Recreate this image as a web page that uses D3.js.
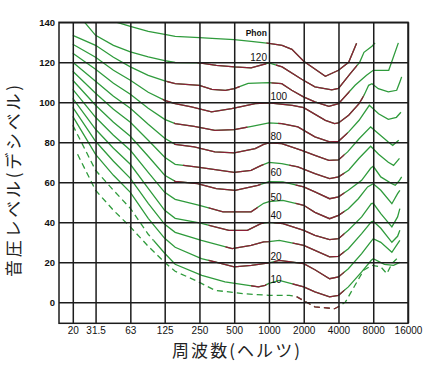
<!DOCTYPE html>
<html>
<head>
<meta charset="utf-8">
<script src="https://cdnjs.cloudflare.com/ajax/libs/d3/7.8.5/d3.min.js"></script>
<style>
body { margin: 0; background: #fff; }
svg { display: block; }
</style>
</head>
<body>
<svg id="chart" width="430" height="365"></svg>
<script>
// tick values
var freqTicks = [20, 31.5, 63, 125, 250, 500, 1000, 2000, 4000, 8000, 16000];
var dbTicks = [0, 20, 40, 60, 80, 100, 120, 140];

// equal loudness curves, [frequency Hz, level dB]
var phon130 = [[31.5,150],[45,140.5],[63,138],[90,135.5],[125,134],[154,133],[250,132.3],[350,131.8],[500,131.3],[700,130.5],[1000,129.5],[1300,128.5],[1580,126.5],[2000,120.5],[3080,113],[4000,116],[4900,120],[5740,129.5]];
var phon120 = [[20,147],[31.5,133.5],[45,128.5],[63,125.2],[90,122.7],[125,120.8],[154,119.9],[250,119.7],[350,118.5],[500,117.7],[700,117.2],[1000,119.7],[1300,117.7],[1920,111.5],[2500,107.7],[3500,106.2],[4000,107],[5060,114.3],[6100,120],[6650,125],[7800,128],[8300,129.7]];
var phon110 = [[20,133.5],[31.5,128.5],[45,122.5],[63,117.7],[90,113.5],[125,110.7],[154,109.3],[250,108.5],[320,106.5],[420,106],[500,106.8],[660,109.5],[1000,109.8],[1290,109.3],[1575,106],[1990,102.7],[2500,100.2],[3300,98],[4000,99.3],[5570,108.5],[7000,113.5],[8000,116],[10900,116],[13200,129.7]];
var phon100 = [[20,129],[31.5,122.5],[45,116],[63,111],[90,105],[125,101],[154,99.3],[213,97.7],[318,95.2],[475,96.8],[760,99.3],[1000,99.7],[1594,98.5],[2000,97.3],[3080,91],[3700,89.3],[4000,89.7],[4900,93.5],[6030,99.3],[6660,103.5],[7300,108.5],[7800,109.3],[8850,106.8],[10800,105.2],[12770,106],[13600,110.2],[14100,112.7]];
var phon90 = [[20,124.5],[31.5,116.5],[45,109.5],[63,104],[90,97],[125,91.5],[154,89.3],[225,88],[340,86],[500,86.3],[710,88],[1000,89.7],[1290,89.3],[1780,87.7],[2500,82.7],[3350,80.2],[4000,80.5],[4900,85.2],[6030,91],[7400,98.5],[8900,94.3],[10800,91.5],[12700,92.5],[13900,95]];
var phon80 = [[20,120],[31.5,110.5],[45,103],[63,97],[90,89],[125,82],[154,79],[225,77.7],[340,75.2],[500,74.7],[760,76.8],[900,79],[1000,79.7],[1290,79.3],[1920,76],[2500,73.5],[3300,71],[4000,71.2],[4800,75.2],[6030,81.8],[7600,87.7],[8900,84.3],[10800,80.2],[11800,78.5],[13300,81]];
var phon70 = [[20,115.5],[31.5,104.5],[45,96.5],[63,90],[90,81],[125,72.5],[154,69],[250,67.5],[500,65],[700,66],[850,68.3],[1000,70],[1290,69.3],[1780,67.7],[2500,64.3],[3350,61.8],[4000,62.7],[4900,66],[6030,72],[7600,78],[8900,74],[10800,70],[12000,68.5],[13500,72]];
var phon60 = [[20,111],[31.5,98.5],[45,90],[63,83],[90,73],[125,63.5],[154,60.5],[240,59.3],[350,56.8],[510,56],[800,58.5],[1000,60.3],[1320,60.2],[2000,57.7],[2500,55.2],[3350,51.8],[4000,52.7],[4870,56],[6350,61],[7600,67],[8000,68],[9300,62.7],[11600,59.3],[12400,58.5],[13500,61],[14100,62.7]];
var phon50 = [[20,106.5],[31.5,92.5],[45,83.5],[63,76],[90,65],[125,55],[154,51.5],[250,48.5],[400,45.2],[700,45.2],[900,49.5],[1000,50.3],[1320,51],[2000,48.5],[2500,45],[3350,41.8],[4000,43.5],[4870,46.8],[5940,51.8],[7150,57.7],[8000,59.3],[9300,56],[11600,49.3],[13000,54.3],[13600,56]];
var phon40 = [[20,102],[31.5,86.5],[45,77],[63,69],[90,57],[125,46],[154,42],[250,39.7],[450,36],[650,36],[850,39.3],[1000,40],[1320,39.3],[2000,36],[2500,33.5],[3350,31.3],[4000,31.8],[4870,36],[6350,42.7],[7700,49.3],[8000,49.5],[9300,44.3],[11600,37.7],[13000,42.7],[13600,46.8]];
var phon30 = [[20,97.5],[31.5,80.5],[45,70.5],[63,62],[90,49.5],[125,39],[154,35],[260,31],[480,26.8],[700,28.5],[900,30.2],[1000,30.3],[1230,31],[2000,28.5],[2500,26],[3350,22.7],[4000,23],[4870,26.8],[6350,34.3],[7700,40.2],[8000,40.5],[9300,37],[11600,30],[13000,33],[13600,36]];
var phon20 = [[20,93],[31.5,74],[45,63.5],[63,55],[90,42],[125,32],[154,27.5],[260,21.8],[340,20.2],[500,17.7],[705,18.5],[1000,19.7],[1230,21],[2000,19.3],[2500,16.3],[3350,11.8],[4000,12.7],[4870,16.8],[6350,24.3],[7400,29.3],[8000,31.8],[9300,30],[11600,25],[13600,31]];
var phon10 = [[20,88.5],[31.5,66],[45,56],[63,47],[90,34],[125,24.5],[154,19],[262,13.5],[416,10.2],[663,8.5],[810,7.7],[925,8.5],[1000,9.5],[1230,11],[2000,7.7],[2500,5.2],[3350,2.7],[4000,3.5],[4870,7.7],[6350,15.2],[7700,21],[8000,21.8],[10000,19],[12000,18.5],[13600,20]];
var threshold = [[22,74],[31.5,56],[45,46],[63,37.7],[90,28],[125,20],[154,15.5],[240,10.5],[340,6],[600,4.3],[1000,3.5],[1500,3.5],[1750,2.7],[2500,-2.3],[3700,-3.2],[4200,-1.5],[4600,0.2],[5560,8.5],[6600,16],[7800,18.5],[9300,17.7],[10500,14.3],[11600,19.3],[13300,22.7]];

var curves = [phon130, phon120, phon110, phon100, phon90, phon80, phon70, phon60, phon50, phon40, phon30, phon20, phon10, threshold];

// frequency ranges where each curve is drawn in dark red (the rest is green)
var redBands = [
  [[950,6000]],
  [[240,950],[1150,5800]],
  [[130,560],[1050,5000]],
  [[120,6600]],
  [[150,650],[1200,4800]],
  [[150,4500]],
  [[180,900],[1500,4500]],
  [[150,850],[1700,4500]],
  [[300,800],[1700,4500]],
  [[300,900],[1100,4500]],
  [[420,1000],[1600,4500]],
  [[300,1000],[1100,4500]],
  [[700,950],[1600,4500]],
  [[1600,4300]]
];
// curves drawn dashed below this frequency
var dashedBelow = [0,0,0,0,0,0,0,0,0,0,0,0,100,Infinity];

// curve labels: text, level (dB) where it sits at 1000 Hz
var labelText = ["Phon", "120", "100", "80", "60", "50", "40", "20", "10"];
var labelLevel = [133.2, 120.9, 101.4, 81.2, 63.4, 50.8, 41.9, 21.2, 9.9];

var green = "#2f9b3c", red = "#8b2036";

var svg = d3.select("#chart");
var plotLeft = 59, plotRight = 408, plotTop = 22.3, plotBottom = 323.3;

var x = d3.scaleLog().domain([20, 16000]).range([72.8, 408]);
var y = d3.scaleLinear().domain([0, 140]).range([302.3, 22.3]);

var defs = svg.append("defs");
var clipCount = 0;
function clipBetween(f0, f1) {
  var id = "clip" + (clipCount++);
  var x0 = f0 > 0 ? Math.max(plotLeft, x(f0)) : plotLeft;
  var x1 = isFinite(f1) ? Math.min(plotRight, x(f1)) : plotRight;
  defs.append("clipPath").attr("id", id).append("rect")
    .attr("x", x0).attr("y", plotTop)
    .attr("width", Math.max(0, x1 - x0)).attr("height", plotBottom - plotTop);
  return "url(#" + id + ")";
}

var line = d3.line()
  .x(function(d) { return x(d[0]); })
  .y(function(d) { return y(d[1]); });

// curves
var gCurves = svg.append("g").attr("class", "curves");
curves.forEach(function(pts, i) {
  var cut = dashedBelow[i];
  var pieces = [];
  if (cut > 0) pieces.push([0, cut, true]);
  if (isFinite(cut)) pieces.push([cut, Infinity, false]);
  pieces.forEach(function(p) {
    gCurves.append("path")
      .attr("d", line(pts))
      .attr("clip-path", clipBetween(p[0], p[1]))
      .attr("fill", "none")
      .attr("stroke", green)
      .attr("stroke-width", 1.3)
      .attr("stroke-dasharray", p[2] ? "6,4" : null);
    redBands[i].forEach(function(b) {
      var lo = Math.max(p[0], b[0]), hi = Math.min(p[1], b[1]);
      if (hi <= lo) return;
      gCurves.append("path")
        .attr("d", line(pts))
        .attr("clip-path", clipBetween(lo, hi))
        .attr("fill", "none")
        .attr("stroke", red)
        .attr("stroke-width", 1.3)
        .attr("stroke-dasharray", p[2] ? "6,4" : null);
    });
  });
});

// axes with grid lines
var yAxis = d3.axisLeft(y)
  .tickValues(dbTicks)
  .tickSize(-(plotRight - plotLeft))
  .tickPadding(4);
var gy = svg.append("g")
  .attr("transform", "translate(" + plotLeft + ",0)")
  .call(yAxis);

var xAxis = d3.axisBottom(x)
  .tickValues(freqTicks)
  .tickFormat(function(d) { return String(d); })
  .tickSize(-(plotBottom - plotTop))
  .tickPadding(4);
var gx = svg.append("g")
  .attr("transform", "translate(0," + plotBottom + ")")
  .call(xAxis);

gy.select(".domain").remove();
gx.select(".domain").remove();
svg.selectAll(".tick line").attr("stroke", "#1c1c1c").attr("stroke-width", 1.5);
gy.selectAll("text")
  .attr("font-family", "'Liberation Sans', Arial, sans-serif")
  .attr("font-size", 9.5).attr("font-weight", "bold").attr("fill", "#111");
gx.selectAll("text")
  .attr("font-family", "'Liberation Sans', Arial, sans-serif")
  .attr("font-size", 10).attr("fill", "#111");

// frame
svg.append("rect")
  .attr("x", plotLeft).attr("y", plotTop)
  .attr("width", plotRight - plotLeft).attr("height", plotBottom - plotTop)
  .attr("fill", "none").attr("stroke", "#1c1c1c").attr("stroke-width", 1.5);

// phon labels near 1000 Hz
svg.append("g").selectAll("text")
  .data(labelText)
  .enter()
  .append("text")
  .attr("x", function(d, i) { return labelLevel[i] > 110 ? x(1000) - 2 : x(1000) + 1.5; })
  .attr("y", function(d, i) { return y(labelLevel[i]); })
  .attr("text-anchor", function(d, i) { return labelLevel[i] > 110 ? "end" : "start"; })
  .attr("font-family", "'Liberation Sans', Arial, sans-serif")
  .attr("font-size", function(d) { return d === "Phon" ? 8.5 : 10; })
  .attr("font-weight", function(d) { return d === "Phon" ? "bold" : "normal"; })
  .attr("fill", "#111")
  .text(function(d) { return d; });

// axis titles
svg.append("text")
  .attr("x", 236).attr("y", 357)
  .attr("text-anchor", "middle")
  .attr("font-family", "'Noto Sans CJK JP', sans-serif")
  .attr("font-size", 17)
  .attr("textLength", 128).attr("lengthAdjust", "spacing")
  .attr("fill", "#222")
  .text("周波数(ヘルツ)");

svg.append("text")
  .attr("transform", "translate(20,181) rotate(-90)")
  .attr("text-anchor", "middle")
  .attr("font-family", "'Noto Sans CJK JP', sans-serif")
  .attr("font-size", 17)
  .attr("textLength", 192).attr("lengthAdjust", "spacing")
  .attr("fill", "#222")
  .text("音圧レベル(デシベル)");
</script>
</body>
</html>
